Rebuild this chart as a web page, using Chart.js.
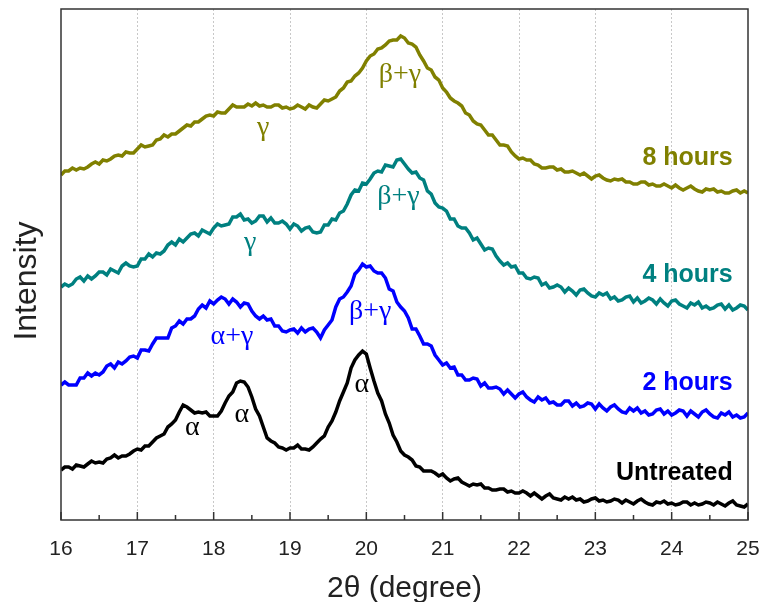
<!DOCTYPE html>
<html>
<head>
<meta charset="utf-8">
<title>XRD patterns</title>
<script src="https://cdn.jsdelivr.net/npm/chart.js@4.4.1/dist/chart.umd.min.js"></script>
<style>
  body { margin: 0; background: #fff; }
  #xrdChart { display: block; }
</style>
</head>
<body>
<canvas id="xrdChart" width="763" height="602"></canvas>
<script>
// 2-theta sampling grid, 16.00 .. 25.00 in 0.05 degree steps
const twoTheta = Array.from({length: 181}, (_, i) => +(16 + i * 0.05).toFixed(2));

// intensities (arbitrary units, curves offset vertically)
const untreated = [
  50, 53, 53, 51, 55, 54, 53, 56, 59, 57, 58, 57, 61, 62, 65, 62, 64, 64, 66, 69,
  71, 70, 74, 74, 78, 82, 84, 86, 93, 96, 100, 108, 115, 113, 110, 107, 108, 107, 108, 104,
  104, 104, 109, 117, 124, 128, 137, 139, 138, 133, 123, 111, 104, 93, 82, 79, 77, 73, 72, 70,
  72, 72, 75, 71, 71, 70, 73, 77, 81, 84, 93, 99, 108, 119, 128, 137, 152, 160, 165, 169,
  166, 152, 139, 127, 119, 106, 97, 85, 78, 69, 65, 63, 60, 54, 53, 49, 49, 49, 47, 44,
  46, 42, 39, 41, 42, 38, 36, 34, 36, 35, 36, 32, 32, 30, 30, 31, 31, 28, 29, 27,
  27, 29, 27, 24, 27, 24, 21, 24, 26, 22, 21, 20, 23, 21, 23, 20, 21, 18, 19, 21,
  22, 19, 20, 18, 19, 21, 20, 17, 20, 18, 16, 19, 21, 18, 16, 15, 18, 17, 19, 16,
  17, 15, 16, 18, 18, 15, 17, 15, 16, 18, 17, 15, 18, 16, 14, 17, 19, 15, 14, 13,
  16
];
const hours2 = [
  135, 138, 135, 135, 135, 142, 142, 147, 144, 147, 145, 148, 154, 156, 152, 158, 156, 159, 163, 164,
  162, 170, 170, 169, 176, 182, 182, 182, 182, 192, 194, 199, 196, 201, 201, 204, 211, 215, 212, 219,
  216, 220, 223, 221, 216, 221, 218, 213, 217, 216, 209, 204, 201, 204, 200, 201, 194, 194, 189, 188,
  190, 191, 187, 192, 188, 191, 192, 188, 182, 190, 195, 200, 213, 221, 223, 228, 234, 246, 250, 256,
  253, 254, 249, 247, 247, 242, 231, 229, 218, 213, 209, 202, 191, 191, 184, 176, 176, 174, 165, 160,
  155, 157, 152, 153, 145, 145, 140, 140, 142, 141, 134, 137, 132, 132, 133, 131, 126, 130, 126, 122,
  126, 128, 123, 120, 118, 123, 120, 122, 117, 118, 115, 115, 119, 119, 114, 117, 113, 114, 117, 116,
  111, 116, 112, 109, 113, 115, 111, 108, 107, 112, 109, 112, 107, 109, 105, 106, 110, 111, 106, 109,
  105, 107, 110, 109, 104, 109, 106, 103, 108, 110, 106, 103, 102, 107, 105, 108, 103, 105, 102, 103,
  107
];
const hours4 = [
  233, 236, 234, 236, 241, 243, 239, 244, 241, 244, 248, 248, 245, 251, 249, 247, 254, 257, 254, 253,
  254, 261, 261, 266, 263, 267, 266, 269, 275, 278, 275, 281, 278, 282, 286, 287, 284, 290, 288, 286,
  292, 296, 294, 295, 296, 303, 303, 306, 300, 301, 297, 299, 304, 304, 298, 302, 297, 297, 299, 296,
  291, 296, 294, 289, 292, 293, 288, 287, 288, 295, 295, 301, 300, 307, 309, 316, 325, 330, 329, 337,
  336, 341, 347, 349, 348, 355, 354, 353, 360, 361, 356, 351, 347, 348, 342, 340, 329, 326, 317, 313,
  312, 309, 301, 301, 294, 292, 292, 287, 280, 282, 276, 270, 272, 271, 264, 259, 255, 257, 253, 254,
  247, 247, 242, 241, 243, 242, 235, 237, 232, 233, 235, 233, 228, 232, 229, 225, 230, 231, 227, 224,
  223, 227, 225, 227, 221, 223, 219, 220, 223, 224, 218, 222, 217, 219, 222, 220, 216, 221, 217, 214,
  219, 220, 216, 214, 212, 217, 215, 218, 212, 214, 211, 212, 215, 216, 211, 215, 210, 212, 215, 214,
  210
];
const hours8 = [
  345, 349, 349, 352, 350, 352, 351, 353, 356, 358, 356, 360, 359, 361, 364, 365, 364, 368, 367, 367,
  371, 375, 373, 374, 375, 380, 381, 385, 383, 386, 386, 389, 392, 395, 394, 398, 398, 401, 404, 405,
  404, 408, 407, 407, 411, 415, 413, 413, 413, 416, 414, 417, 414, 415, 413, 413, 415, 415, 412, 413,
  411, 412, 415, 413, 411, 415, 413, 412, 416, 420, 419, 421, 423, 429, 432, 438, 439, 444, 447, 452,
  459, 464, 466, 471, 472, 475, 479, 480, 480, 484, 482, 477, 476, 473, 465, 459, 452, 450, 443, 440,
  432, 428, 422, 419, 417, 414, 407, 405, 399, 396, 395, 390, 385, 385, 380, 375, 375, 374, 368, 364,
  361, 362, 360, 360, 356, 355, 352, 352, 353, 353, 350, 351, 348, 348, 349, 347, 345, 347, 344, 341,
  344, 345, 342, 340, 339, 341, 340, 341, 338, 338, 336, 336, 338, 338, 335, 336, 334, 334, 336, 334,
  332, 335, 332, 330, 332, 334, 331, 329, 328, 331, 330, 331, 328, 329, 327, 327, 329, 330, 327, 329,
  327
];

const seriesNames = ['Untreated', '2 hours', '4 hours', '8 hours'];
const seriesColors = ['#000000', '#0000ff', '#008080', '#808000'];
const seriesValues = [untreated, hours2, hours4, hours8];

// phase labels on the curves: [text, 2theta, intensity, colour index]
const phaseLabels = [
  ['\u03b1', 17.72, 92, 0],
  ['\u03b1', 18.37, 105, 0],
  ['\u03b1', 19.94, 135, 0],
  ['\u03b1+\u03b3', 18.24, 183, 1],
  ['\u03b2+\u03b3', 20.05, 208, 1],
  ['\u03b3', 18.48, 277, 2],
  ['\u03b2+\u03b3', 20.42, 323, 2],
  ['\u03b3', 18.65, 392, 3],
  ['\u03b2+\u03b3', 20.44, 445, 3]
];
const nameLabelPos = [[24.8, 47], [24.8, 137], [24.8, 245], [24.8, 362]];

const datasets = seriesValues.map((vals, i) => ({
  label: seriesNames[i],
  data: vals.map((v, j) => ({x: twoTheta[j], y: v})),
  borderColor: seriesColors[i],
  borderWidth: 3.5,
  pointRadius: 0,
  tension: 0,
  fill: false
}));

// frame, inward ticks, y title and text labels on the curves
const decorations = {
  id: 'decorations',
  afterDatasetsDraw(chart) {
    const {ctx, chartArea: a, scales: {x, y}} = chart;
    ctx.save();
    ctx.strokeStyle = '#333';
    ctx.lineWidth = 1.5;
    ctx.strokeRect(a.left, a.top, a.right - a.left, a.bottom - a.top);
    ctx.beginPath();
    for (let t = 16; t <= 25; t += 0.5) {
      const px = x.getPixelForValue(t);
      const len = Number.isInteger(t) ? 8 : 5;
      ctx.moveTo(px, a.bottom);
      ctx.lineTo(px, a.bottom - len);
    }
    ctx.stroke();

    ctx.textAlign = 'center';
    ctx.textBaseline = 'middle';
    ctx.fillStyle = '#222';
    ctx.font = '32px "Liberation Sans", Arial, sans-serif';
    ctx.translate(27, 281);
    ctx.rotate(-Math.PI / 2);
    ctx.fillText('Intensity', 0, 0);
    ctx.setTransform(1, 0, 0, 1, 0, 0);

    ctx.font = '28px "Liberation Serif", "DejaVu Serif", serif';
    phaseLabels.forEach(([txt, t, v, c]) => {
      ctx.fillStyle = seriesColors[c];
      ctx.fillText(txt, x.getPixelForValue(t), y.getPixelForValue(v));
    });

    ctx.textAlign = 'right';
    ctx.font = 'bold 25px "Liberation Sans", Arial, sans-serif';
    nameLabelPos.forEach(([t, v], i) => {
      ctx.fillStyle = seriesColors[i];
      ctx.fillText(seriesNames[i], x.getPixelForValue(t), y.getPixelForValue(v));
    });
    ctx.restore();
  }
};

new Chart(document.getElementById('xrdChart'), {
  type: 'line',
  data: {datasets},
  options: {
    responsive: false,
    animation: false,
    layout: {padding: {top: 9, right: 15, left: 0, bottom: 0}},
    plugins: {legend: {display: false}, tooltip: {enabled: false}},
    scales: {
      x: {
        type: 'linear',
        min: 16,
        max: 25,
        afterFit(scale) {
          scale.height = 82;
          scale.paddingLeft = 0;
          scale.paddingRight = 0;
        },
        grid: {
          drawTicks: false,
          color: (c) => (c.tick.value > 16 && c.tick.value < 25) ? '#c8c8c8' : 'rgba(0,0,0,0)',
          lineWidth: 1
        },
        border: {display: false, dash: [2, 2]},
        ticks: {
          stepSize: 1,
          padding: 17,
          color: '#222',
          font: {family: '"Liberation Sans", Arial, sans-serif', size: 21}
        },
        title: {
          display: true,
          text: '2\u03b8 (degree)',
          color: '#222',
          padding: {top: 0, bottom: 0},
          font: {family: '"Liberation Sans", Arial, sans-serif', size: 30, lineHeight: 0.9}
        }
      },
      y: {
        min: 0,
        max: 511,
        afterFit(scale) { scale.width = 61; },
        grid: {display: false},
        border: {display: false},
        ticks: {display: false}
      }
    }
  },
  plugins: [decorations]
});
</script>
</body>
</html>
